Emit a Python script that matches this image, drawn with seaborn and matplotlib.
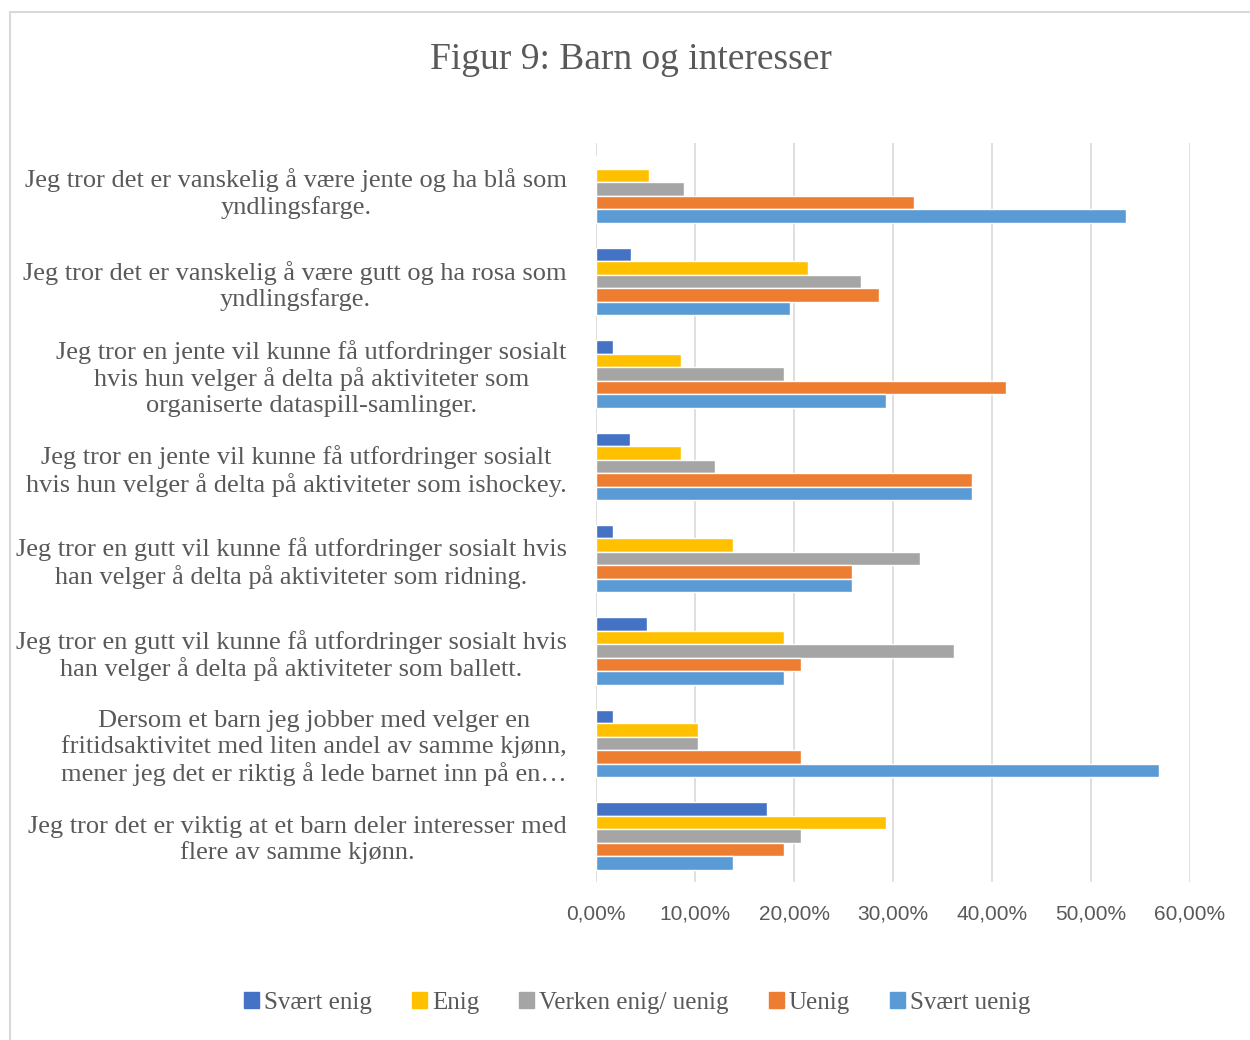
import pandas as pd
import seaborn as sns
import matplotlib.pyplot as plt
from matplotlib.patches import Rectangle
from matplotlib.ticker import FuncFormatter

questions = [
    'Jeg tror det er vanskelig å være jente og ha blå som\nyndlingsfarge.',
    'Jeg tror det er vanskelig å være gutt og ha rosa som\nyndlingsfarge.',
    'Jeg tror en jente vil kunne få utfordringer sosialt\nhvis hun velger å delta på aktiviteter som\norganiserte dataspill-samlinger.',
    'Jeg tror en jente vil kunne få utfordringer sosialt\nhvis hun velger å delta på aktiviteter som ishockey.',
    'Jeg tror en gutt vil kunne få utfordringer sosialt hvis\nhan velger å delta på aktiviteter som ridning.',
    'Jeg tror en gutt vil kunne få utfordringer sosialt hvis\nhan velger å delta på aktiviteter som ballett.',
    'Dersom et barn jeg jobber med velger en\nfritidsaktivitet med liten andel av samme kjønn,\nmener jeg det er riktig å lede barnet inn på en…',
    'Jeg tror det er viktig at et barn deler interesser med\nflere av samme kjønn.',
]
answers = ['Svært enig', 'Enig', 'Verken enig/ uenig', 'Uenig', 'Svært uenig']
colors = ['#4472C4', '#FFC000', '#A5A5A5', '#ED7D31', '#5B9BD5']

# share per answer, one list per question (in %)
svaert_enig = [0.00, 3.57, 1.72, 3.45, 1.72, 5.17, 1.72, 17.24]
enig = [5.36, 21.43, 8.62, 8.62, 13.79, 18.97, 10.34, 29.31]
verken = [8.93, 26.79, 18.97, 12.07, 32.76, 36.21, 10.34, 20.69]
uenig = [32.14, 28.57, 41.38, 37.93, 25.86, 20.69, 20.69, 18.97]
svaert_uenig = [53.57, 19.64, 29.31, 37.93, 25.86, 18.97, 56.90, 13.79]

rows = []
for vals, a in zip([svaert_enig, enig, verken, uenig, svaert_uenig], answers):
    for q, v in zip(questions, vals):
        rows.append({'question': q, 'answer': a, 'share': v / 100})
df = pd.DataFrame(rows)

sns.set_style('white')
plt.rcParams['font.family'] = 'Liberation Serif'

fig = plt.figure(figsize=(12.5, 10.4), dpi=100)
ax = fig.add_axes([596/1250, 1-882/1040, 594/1250, 739/1040])

sns.barplot(data=df, y='question', x='share', hue='answer', order=questions,
            hue_order=answers, palette=colors, orient='h', width=0.73,
            saturation=1, ax=ax, legend=False)

ax.set_xlim(0, 0.6)
ax.set_xticks([0, 0.1, 0.2, 0.3, 0.4, 0.5, 0.6])
ax.xaxis.set_major_formatter(FuncFormatter(lambda v, p: f'{v*100:.2f}%'.replace('.', ',')))
ax.grid(axis='x', color='#D9D9D9', linewidth=1.2)
ax.set_axisbelow(True)
for s in ax.spines.values():
    s.set_visible(False)
ax.set_xlabel('')
ax.set_ylabel('')
ax.tick_params(axis='x', length=0, pad=16, labelsize=15, labelcolor='#595959')
ax.tick_params(axis='y', length=0, pad=21, labelsize=19, labelcolor='#595959')
for t in ax.get_xticklabels():
    t.set_fontfamily('Liberation Sans')
for t in ax.get_yticklabels():
    t.set_multialignment('center')
    t.set_linespacing(1.2)

fig.text(631/1250, 1-60/1040, 'Figur 9: Barn og interesser', ha='center', va='center',
         fontsize=27, color='#595959')

handles = [Rectangle((0, 0), 1, 1, color=c) for c in colors]
fig.legend(handles, answers, loc='center', bbox_to_anchor=(637/1250, 1-1003/1040), ncol=5,
           frameon=False, fontsize=18, handlelength=0.6, handleheight=0.6,
           handletextpad=0.2, columnspacing=1.6, labelcolor='#595959')

fig.patches.append(Rectangle((10/1250, -0.1), 1.2, 1.1 - 12/1040, transform=fig.transFigure,
                             fill=False, edgecolor='#D9D9D9', linewidth=1.5))

fig.savefig('out.png', dpi=100)
